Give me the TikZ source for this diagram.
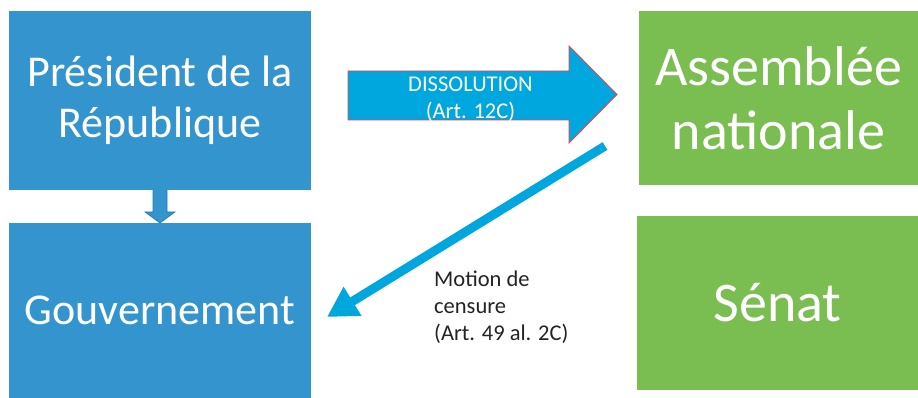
\documentclass[tikz,border=0pt]{standalone}
\usepackage{fontspec}
\setmainfont{Carlito}
\usetikzlibrary{arrows.meta,calc}

\definecolor{boxblue}{RGB}{52,148,205}
\definecolor{blueedge}{RGB}{40,120,175}
\definecolor{boxgreen}{RGB}{122,190,82}
\definecolor{arrowcyan}{RGB}{0,166,222}
\definecolor{arrowred}{RGB}{236,68,72}
\definecolor{textdark}{RGB}{38,34,34}

\begin{document}
\begin{tikzpicture}[x=1pt,y=-1pt,
  panel/.style={inner sep=0pt, outer sep=0pt, text=white, align=center},
  bluepanel/.style={panel, fill=boxblue, minimum width=302pt,
    font=\fontsize{44}{51}\selectfont},
  greenpanel/.style={panel, fill=boxgreen,
    font=\fontsize{56}{64}\selectfont},
  smalltext/.style={inner sep=0pt, font=\fontsize{22.5}{27}\selectfont},
  blockarrow/.style={fill=arrowcyan, draw=arrowred, line width=0.9pt},
  linkarrow/.style={fill=boxblue, draw=blueedge, line width=0.6pt},
  censure/.style={arrowcyan, line width=9pt,
    -{Triangle[length=30pt,width=32pt]}}
]
\useasboundingbox (0,0) rectangle (918,398);

% executive side
\node[bluepanel, minimum height=179pt] (pres) at (160,100.5)
  {Président de la\\République};
\node[bluepanel, minimum height=175pt] (gouv) at (160,310.5)
  {Gouvernement};

% parliament side
\node[greenpanel, minimum width=279pt, minimum height=174pt] (an)
  at (778.5,98) {Assemblée\\nationale};
\node[greenpanel, minimum width=281pt, minimum height=174pt] (senat)
  at (777.5,303) {Sénat};

% president -> government
\filldraw[linkarrow]
  ($(pres.south)+(-7,0)$) -- ($(pres.south)+(-7,22)$)
  -- ($(pres.south)+(-15,22)$) -- (gouv.north)
  -- ($(pres.south)+(15,22)$) -- ($(pres.south)+(7,22)$)
  -- ($(pres.south)+(7,0)$);

% dissolution block arrow
\filldraw[blockarrow] (348,71) -- (569,71) -- (569,46) -- (617,94.5)
  -- (569,143) -- (569,120) -- (348,120) -- cycle;
\node[smalltext, text=white, align=center] (dissLabel) at (470.5,99)
  {DISSOLUTION\\(Art. 12C)};

% motion de censure
\coordinate (censFrom) at ([xshift=-34pt,yshift=-48pt]an.west);
\coordinate (censTo) at ([xshift=16pt,yshift=-6.5pt]gouv.east);
\draw[censure] (censFrom) -- (censTo);
\node[smalltext, text=textdark, align=left, anchor=north west]
  (censLabel) at (434,271) {Motion de\\censure\\(Art. 49 al. 2C)};
\end{tikzpicture}
\end{document}
